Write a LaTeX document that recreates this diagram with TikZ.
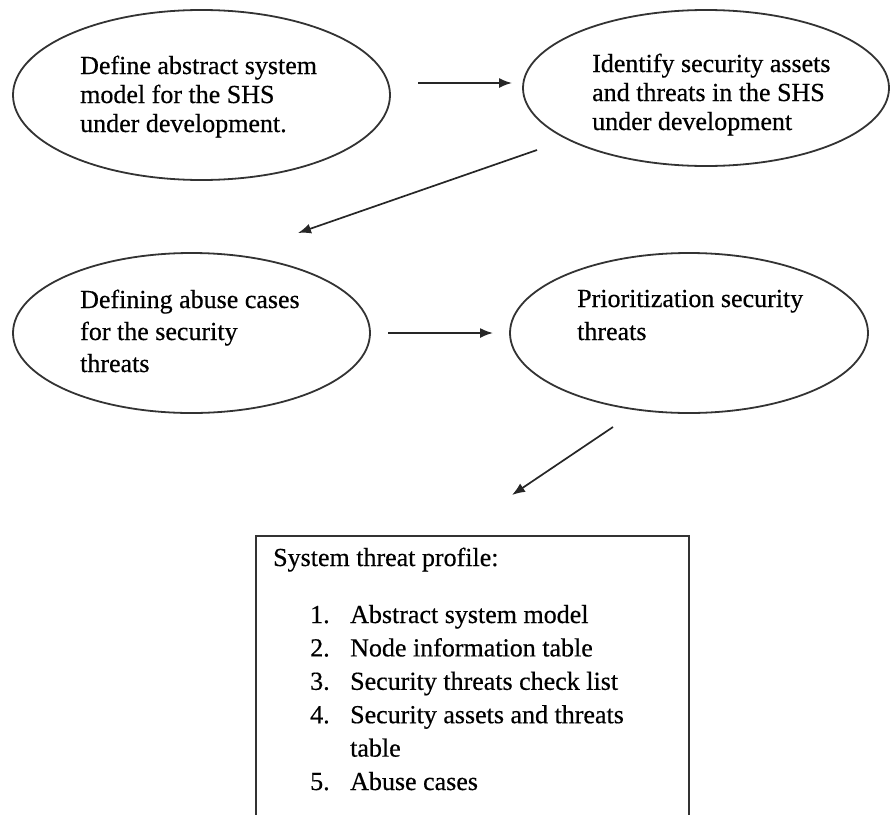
\documentclass[tikz,border=0pt]{standalone}
\usepackage{fontspec}
\setmainfont[FakeBold=0.5]{Liberation Serif}
\usetikzlibrary{arrows.meta,shapes.geometric}

\begin{document}
\begin{tikzpicture}[x=1pt, y=-1pt,
  stage/.style={ellipse, draw=black!80, line width=1.8pt, inner sep=0pt},
  label/.style={anchor=base west, inner sep=0pt, text=black,
    font=\fontsize{26}{29}\selectfont},
  flow/.style={draw=black!85, line width=1.7pt,
    -{Latex[length=13pt, width=10pt]}},
  frame/.style={draw=black!80, line width=1.9pt}]

  \useasboundingbox (0,0) rectangle (891,814);

  % process stages
  \node[stage, minimum width=377pt, minimum height=170pt] (e1) at (201.5,95) {};
  \node[stage, minimum width=366pt, minimum height=156pt] (e2) at (706,88) {};
  \node[stage, minimum width=357pt, minimum height=160pt] (e3) at (191.5,333) {};
  \node[stage, minimum width=358pt, minimum height=160pt] (e4) at (689,333) {};

  % stage texts
  \node[label] (t1) at (80,74) {\vtop{\hbox{Define abstract system}\hbox{model for the SHS}\hbox{under development.}}};
  \node[label] (t2) at (592,72) {\vtop{\hbox{Identify security assets}\hbox{and threats in the SHS}\hbox{under development}}};
  \node[label, font=\fontsize{26}{32}\selectfont] (t3) at (80,308) {\vtop{\hbox{Defining abuse cases}\hbox{for the security}\hbox{threats}}};
  \node[label, font=\fontsize{26}{33}\selectfont] (t4) at (577,307) {\vtop{\hbox{Prioritization security}\hbox{threats}}};

  % arrow end points
  \coordinate (a1s) at (418,83);
  \coordinate (a1e) at (512,83);
  \coordinate (a2s) at (537,150);
  \coordinate (a2e) at (298,233);
  \coordinate (a3s) at (388,333);
  \coordinate (a3e) at (493,333);
  \coordinate (a4s) at (613,427);
  \coordinate (a4e) at (512,495);

  \draw[flow] (a1s) -- (a1e);
  \draw[flow] (a2s) -- (a2e);
  \draw[flow] (a3s) -- (a3e);
  \draw[flow] (a4s) -- (a4e);

  % threat profile box (open at the bottom)
  \coordinate (bl) at (256,820);
  \coordinate (tl) at (256,536);
  \coordinate (tr) at (689,536);
  \coordinate (br) at (689,820);
  \draw[frame] (bl) -- (tl) -- (tr) -- (br);

  \node[label] (hdr) at (273,566) {System threat profile:};
  \node[label, font=\fontsize{26}{33.4}\selectfont] (items) at (310,623) {\vtop{%
    \hbox{\makebox[40pt][l]{1.}Abstract system model}
    \hbox{\makebox[40pt][l]{2.}Node information table}
    \hbox{\makebox[40pt][l]{3.}Security threats check list}
    \hbox{\makebox[40pt][l]{4.}Security assets and threats}
    \hbox{\makebox[40pt][l]{}table}
    \hbox{\makebox[40pt][l]{5.}Abuse cases}}};
\end{tikzpicture}
\end{document}
